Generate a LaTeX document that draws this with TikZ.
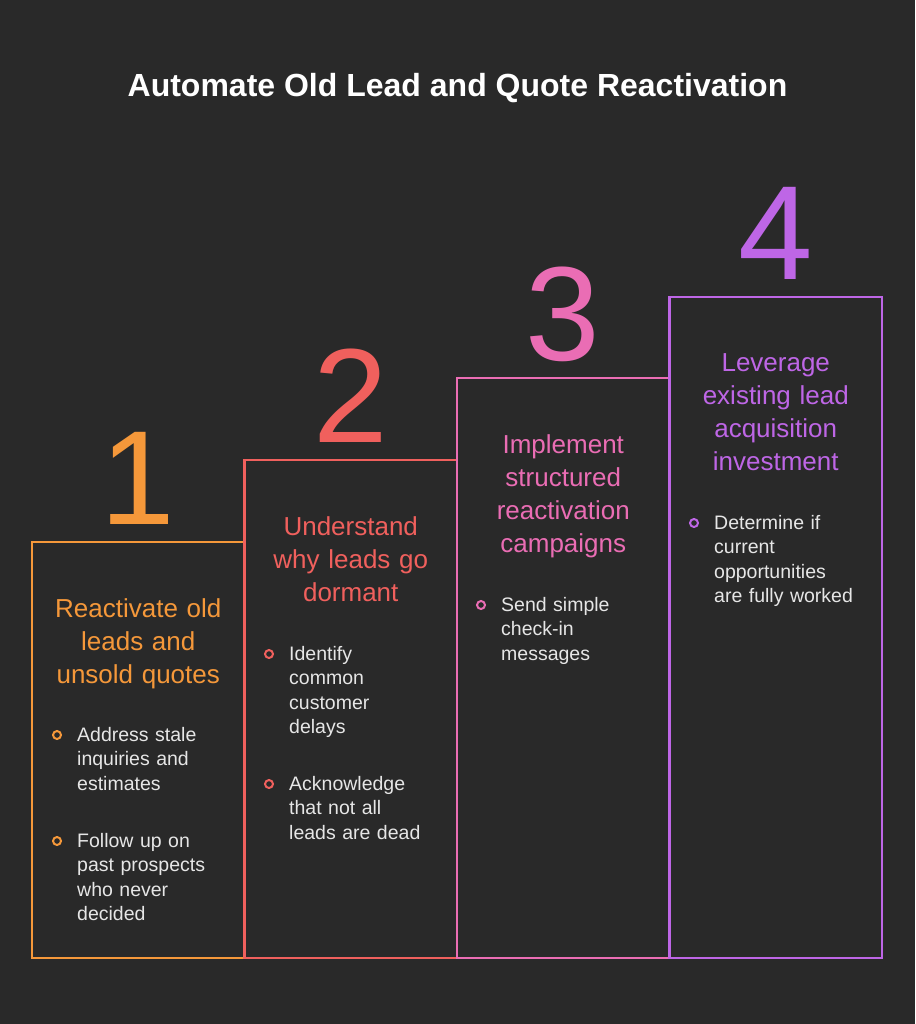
\documentclass[tikz,border=0pt]{standalone}
\usepackage{fontspec}
\setmainfont{Liberation Sans}
\definecolor{bg}{HTML}{292929}
\definecolor{cA}{HTML}{F5983A}
\definecolor{cB}{HTML}{F0605D}
\definecolor{cC}{HTML}{EA6DB4}
\definecolor{cD}{HTML}{BE66E6}
\definecolor{txt}{HTML}{E6E6E6}
\tikzset{
  box/.style={line width=2.3pt},
  num/.style={anchor=base, inner sep=0pt, font=\fontsize{134}{134}\selectfont},
  head/.style={anchor=base, inner sep=0pt, text width=210pt, align=center, font=\fontsize{26}{33}\selectfont},
  btext/.style={anchor=base west, inner sep=0pt, text width=170pt, align=left, text=txt, font=\fontsize{19.5}{24.5}\selectfont},
  dot/.style={circle, draw, line width=2pt, minimum size=8pt, inner sep=0pt},
}
\begin{document}
\begin{tikzpicture}[x=1pt,y=-1pt]
\fill[bg] (0,0) rectangle (915,1024);
\useasboundingbox (0,0) rectangle (915,1024);
\node[anchor=base, inner sep=0pt, text=white, font=\fontsize{32}{32}\selectfont\bfseries] (title) at (457.5,97) {Automate Old Lead and Quote Reactivation};
% boxes
\draw[box, cA] (32,542) rectangle (244.5,958);
\draw[box, cB] (244.5,460) rectangle (457,958);
\draw[box, cC] (457,378) rectangle (669.5,958);
\draw[box, cD] (669.5,297) rectangle (882,958);
% numbers
\node[num, text=cA] (n1) at (138.25,524) {1};
\node[num, text=cB] (n2) at (350.75,442) {2};
\node[num, text=cC] (n3) at (563.25,360) {3};
\node[num, text=cD] (n4) at (775.75,279) {4};
% headings
\node[head, text=cA] (h1) at (138.25,617) {Reactivate old\\leads and\\unsold quotes};
\node[head, text=cB] (h2) at (350.75,535) {Understand\\why leads go\\dormant};
\node[head, text=cC] (h3) at (563.25,453) {Implement\\structured\\reactivation\\campaigns};
\node[head, text=cD] (h4) at (775.75,371) {Leverage\\existing lead\\acquisition\\investment};
% bullets box 1
\node[dot, draw=cA] (d11) at (57,735) {};
\node[btext] (t11) at (77,741) {Address stale\\inquiries and\\estimates};
\node[dot, draw=cA] (d12) at (57,841) {};
\node[btext] (t12) at (77,847) {Follow up on\\past prospects\\who never\\decided};
% bullets box 2
\node[dot, draw=cB] (d21) at (269,654) {};
\node[btext] (t21) at (289,660) {Identify\\common\\customer\\delays};
\node[dot, draw=cB] (d22) at (269,784) {};
\node[btext] (t22) at (289,790) {Acknowledge\\that not all\\leads are dead};
% bullets box 3
\node[dot, draw=cC] (d31) at (481,605) {};
\node[btext] (t31) at (501,611) {Send simple\\check-in\\messages};
% bullets box 4
\node[dot, draw=cD] (d41) at (694,523) {};
\node[btext] (t41) at (714,529) {Determine if\\current\\opportunities\\are fully worked};
\end{tikzpicture}
\end{document}
